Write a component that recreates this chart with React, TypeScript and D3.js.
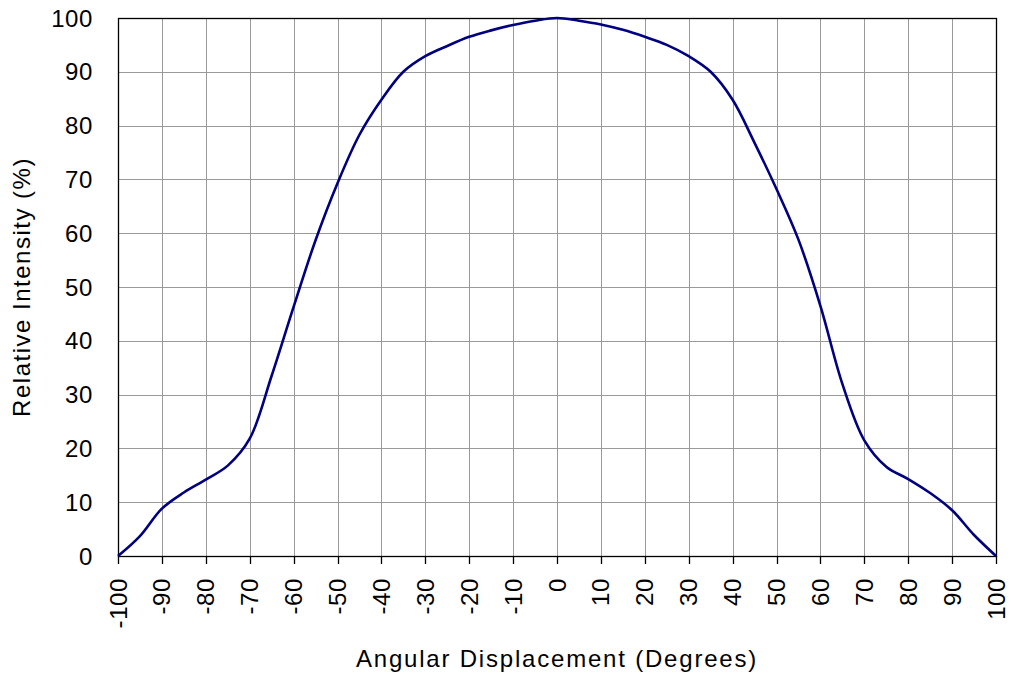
import React, { useEffect, useRef } from "react";
import * as d3 from "d3";

// angle (degrees) and relative intensity (%)
const angles = [
  -100, -95, -90, -85, -80, -75, -70, -65, -60, -55, -50, -45, -40, -35, -30,
  -25, -20, -15, -10, -5, 0, 5, 10, 15, 20, 25, 30, 35, 40, 45, 50, 55, 60, 65,
  70, 75, 80, 85, 90, 95, 100,
];
const intensity = [
  0, 3.7, 8.8, 11.8, 14.2, 16.8, 21.8, 33.5, 46.3, 58.7, 69.3, 78.3, 84.8,
  90, 92.9, 94.8, 96.5, 97.7, 98.7, 99.5, 100, 99.5, 98.8, 97.8, 96.5, 95,
  92.9, 90, 84.8, 76.8, 68.2, 58.8, 46.5, 32, 21.5, 16.6, 14.3, 11.7, 8.5, 3.9,
  0,
];
const xTicks = d3.range(-100, 101, 10);
const yTicks = d3.range(0, 101, 10);

const width = 1011;
const height = 681;
const margin = { top: 18, right: 15, bottom: 125, left: 118 };
const font = "'Liberation Sans', Arial, sans-serif";

export default function App() {
  const ref = useRef<SVGSVGElement>(null);

  useEffect(() => {
    const svg = d3.select(ref.current);
    svg.selectAll("*").remove();

    const innerW = width - margin.left - margin.right;
    const innerH = height - margin.top - margin.bottom;

    const x = d3.scaleLinear().domain([-100, 100]).range([0, innerW]);
    const y = d3.scaleLinear().domain([0, 100]).range([innerH, 0]);

    const g = svg
      .append("g")
      .attr("transform", `translate(${margin.left},${margin.top})`);

    // grid
    g.selectAll(".vgrid")
      .data(xTicks)
      .join("line")
      .attr("x1", (d) => Math.round(x(d)) + 0.5)
      .attr("x2", (d) => Math.round(x(d)) + 0.5)
      .attr("y1", 0)
      .attr("y2", innerH)
      .attr("stroke", "#9a9a9a")
      .attr("stroke-width", 1);
    g.selectAll(".hgrid")
      .data(yTicks)
      .join("line")
      .attr("x1", 0)
      .attr("x2", innerW)
      .attr("y1", (d) => Math.round(y(d)) + 0.5)
      .attr("y2", (d) => Math.round(y(d)) + 0.5)
      .attr("stroke", "#9a9a9a")
      .attr("stroke-width", 1);

    // frame
    g.append("rect")
      .attr("x", 0.5)
      .attr("y", 0.5)
      .attr("width", innerW)
      .attr("height", innerH)
      .attr("fill", "none")
      .attr("stroke", "#000")
      .attr("stroke-width", 1.3);

    // x ticks + labels
    g.selectAll(".xtick")
      .data(xTicks)
      .join("line")
      .attr("x1", (d) => Math.round(x(d)) + 0.5)
      .attr("x2", (d) => Math.round(x(d)) + 0.5)
      .attr("y1", innerH)
      .attr("y2", innerH + 8)
      .attr("stroke", "#000")
      .attr("stroke-width", 1.3);

    g.selectAll(".xlabel")
      .data(xTicks)
      .join("text")
      .attr(
        "transform",
        (d) => `translate(${x(d) + 8.5},${innerH + 22}) rotate(-90)`
      )
      .attr("text-anchor", "end")
      .style("font-family", font)
      .style("font-size", "24px")
      .style("letter-spacing", "0.6px")
      .text((d) => String(d));

    g.selectAll(".ylabel")
      .data(yTicks)
      .join("text")
      .attr("x", -25)
      .attr("y", (d) => y(d) + 8.5)
      .attr("text-anchor", "end")
      .style("font-family", font)
      .style("font-size", "24px")
      .style("letter-spacing", "0.6px")
      .text((d) => String(d));

    // axis titles
    svg
      .append("text")
      .attr("x", margin.left + innerW / 2)
      .attr("y", 667)
      .attr("text-anchor", "middle")
      .style("font-family", font)
      .style("font-size", "24px")
      .style("letter-spacing", "1.8px")
      .text("Angular Displacement (Degrees)");

    svg
      .append("text")
      .attr("transform", `translate(30,${margin.top + innerH / 2}) rotate(-90)`)
      .attr("text-anchor", "middle")
      .style("font-family", font)
      .style("font-size", "24px")
      .style("letter-spacing", "1.5px")
      .text("Relative Intensity (%)");

    // curve
    const pts = angles.map((a, i) => [a, intensity[i]] as [number, number]);
    g.append("path")
      .datum(pts)
      .attr("fill", "none")
      .attr("stroke", "#000080")
      .attr("stroke-width", 2.6)
      .attr(
        "d",
        d3
          .line<[number, number]>()
          .x((d) => x(d[0]))
          .y((d) => y(d[1]))
          .curve(d3.curveCatmullRom.alpha(0.5))
      );
  }, []);

  return (
    <svg
      ref={ref}
      width={width}
      height={height}
      style={{ position: "absolute", left: 0, top: 0, background: "#fff" }}
    />
  );
}
